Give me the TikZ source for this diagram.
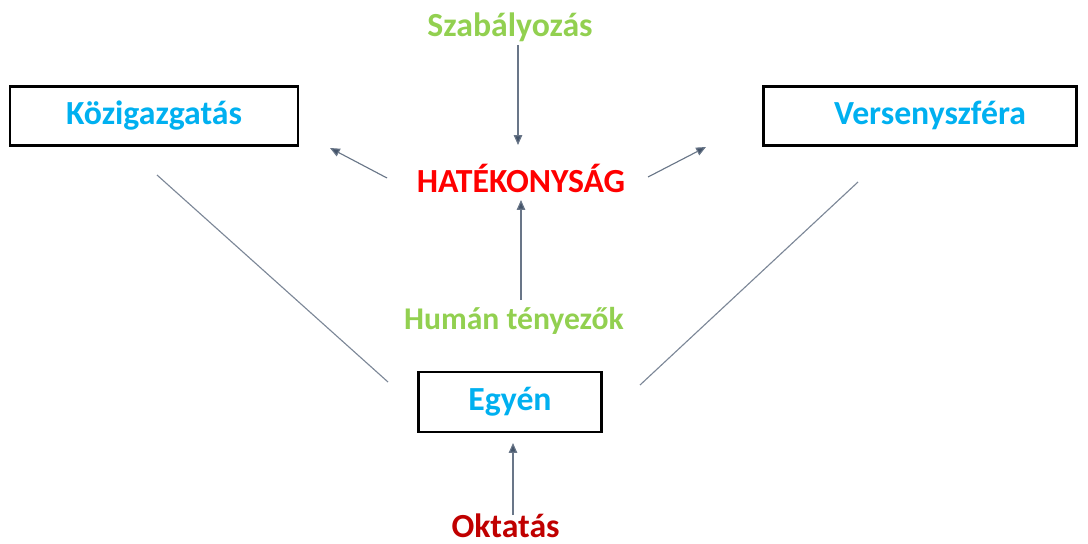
\documentclass[tikz,border=0pt]{standalone}
\usepackage{fontspec}
\setmainfont{Carlito}
\usetikzlibrary{arrows.meta, positioning}
\definecolor{boxblue}{HTML}{00B0F0}
\definecolor{lightgreen}{HTML}{92D050}
\definecolor{darkred}{HTML}{C00000}
\definecolor{slate}{HTML}{44546A}
\begin{document}
\begin{tikzpicture}[
	label/.style={font=\bfseries\fontsize{24}{28}\selectfont, inner sep=2pt},
	box/.style={label, draw=black, line width=2.1pt, text=boxblue, minimum height=1.475cm},
	arr/.style={draw=slate!80, line width=0.8pt, -{Triangle[length=7pt,width=6pt,fill=slate]}},
	link/.style={draw=slate!70, line width=0.8pt}]
	\useasboundingbox (0,0) rectangle (27.2,-13.6);
	% boxes
	\node[box, minimum width=7.2cm] (kozig) at (3.85,-2.89) {Közigazgatás};
	\node[box, minimum width=7.825cm] (verseny) at (23.0,-2.89) {\hspace*{0.5cm}Versenyszféra};
	\node[box, minimum width=4.575cm, minimum height=1.5cm] (egyen) at (12.75,-10.05) {Egyén};
	% texts
	\node[label, text=lightgreen] (szab) at (12.75,-0.675) {Szabályozás};
	\node[label, text=red] (hat) at (13.025,-4.45) {HATÉKONYSÁG};
	\node[label, text=lightgreen, font=\bfseries\fontsize{22.5}{27}\selectfont] (human) at (12.85,-8.025) {Humán tényezők};
	\node[label, text=darkred, inner sep=0pt] (okt) at (12.64,-13.15) {Oktatás};
	% free ends
	\coordinate (szabE) at (12.95,-1.125);
	\coordinate (hatN) at (12.95,-3.625);
	\coordinate (humanN) at (13.025,-7.5);
	\coordinate (hatS) at (13.025,-5.0);
	\coordinate (hatW) at (9.675,-4.45);
	\coordinate (kozigE) at (8.25,-3.7);
	\coordinate (hatE) at (16.2,-4.425);
	\coordinate (versenyW) at (17.65,-3.675);
	\coordinate (oktN) at (12.825,-12.875);
	\coordinate (egyenS) at (12.825,-11.075);
	\coordinate (kozigS) at (3.925,-4.375);
	\coordinate (egyenW) at (9.7,-9.55);
	\coordinate (versenyS) at (21.45,-4.55);
	\coordinate (egyenE) at (16.0,-9.625);
	% arrows
	\draw[arr] (szabE) -- (hatN);
	\draw[arr] (humanN) -- (hatS);
	\draw[arr] (hatW) -- (kozigE);
	\draw[arr] (hatE) -- (versenyW);
	\draw[arr] (oktN) -- (egyenS);
	\draw[link] (kozigS) -- (egyenW);
	\draw[link] (versenyS) -- (egyenE);
\end{tikzpicture}
\end{document}
